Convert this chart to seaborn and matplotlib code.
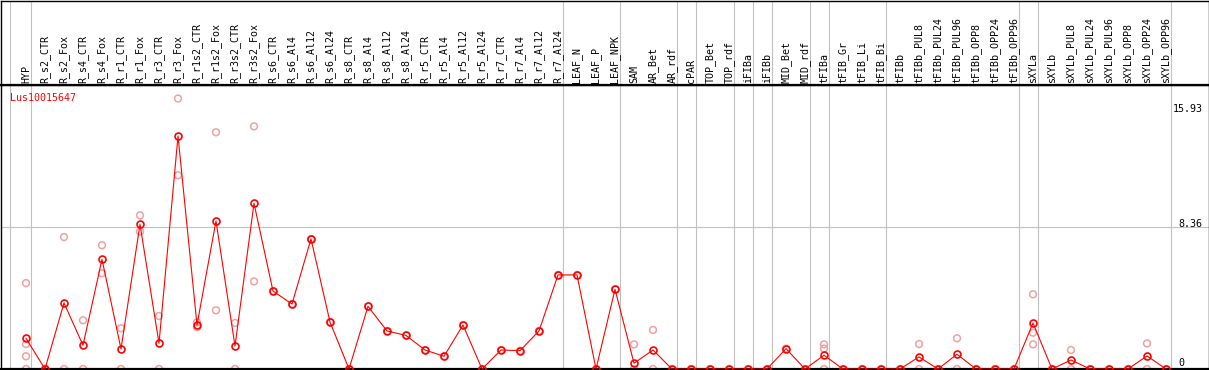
import numpy as np
import pandas as pd
import matplotlib
matplotlib.use("Agg")
import matplotlib.pyplot as plt
import matplotlib.transforms as mtransforms
import seaborn as sns

nan = np.nan

samples = [
    "HYP", "R_s2_CTR", "R_s2_Fox", "R_s4_CTR", "R_s4_Fox", "R_r1_CTR", "R_r1_Fox",
    "R_r3_CTR", "R_r3_Fox", "R_r1s2_CTR", "R_r1s2_Fox", "R_r3s2_CTR", "R_r3s2_Fox",
    "R_s6_CTR", "R_s6_Al4", "R_s6_Al12", "R_s6_Al24", "R_s8_CTR", "R_s8_Al4",
    "R_s8_Al12", "R_s8_Al24", "R_r5_CTR", "R_r5_Al4", "R_r5_Al12", "R_r5_Al24",
    "R_r7_CTR", "R_r7_Al4", "R_r7_Al12", "R_r7_Al24", "LEAF_N", "LEAF_P", "LEAF_NPK",
    "SAM", "AR_Bet", "AR_rdf", "cPAR", "TOP_Bet", "TOP_rdf", "iFIBa", "iFIBb",
    "MID_Bet", "MID_rdf", "tFIBa", "tFIB_Gr", "tFIB_Li", "tFIB_Bi", "tFIBb",
    "tFIBb_PUL8", "tFIBb_PUL24", "tFIBb_PUL96", "tFIBb_OPP8", "tFIBb_OPP24",
    "tFIBb_OPP96", "sXYLa", "sXYLb", "sXYLb_PUL8", "sXYLb_PUL24", "sXYLb_PUL96",
    "sXYLb_OPP8", "sXYLb_OPP24", "sXYLb_OPP96",
]

mean_expr = [
    1.81, 0, 3.89, 1.40, 6.46, 1.18, 8.52, 1.51, 13.72, 2.59, 8.72, 1.35, 9.76,
    4.59, 3.83, 7.66, 2.77, 0, 3.69, 2.24, 1.98, 1.12, 0.75, 2.59, 0,
    1.12, 1.08, 2.24, 5.54, 5.54, 0, 4.69,
    0.34, 1.12, 0, 0, 0, 0, 0, 0,
    1.20, 0, 0.81, 0, 0, 0, 0,
    0.71, 0, 0.87, 0, 0, 0,
    2.71, 0, 0.53, 0, 0, 0, 0.77, 0,
]

rep1 = [
    5.06, 0, 7.77, 2.87, 7.29, 2.40, 9.05, 3.12, 15.93, 2.75, 13.94, 2.71, 14.29,
    4.59, 3.83, 7.66, 2.77, 0, 3.69, 2.24, 1.98, 1.12, 0.75, 2.59, 0,
    1.12, 1.08, 2.24, 5.54, 5.54, 0, 4.69,
    1.45, 2.30, 0, 0, 0, 0, 0, 0,
    1.20, 0, 1.45, 0, 0, 0, 0,
    1.47, 0, 1.81, 0, 0, 0,
    4.40, 0, 1.12, 0, 0, 0, 1.51, 0,
]
rep2 = [
    1.47, 0, 0, 0, 5.64, 0, 8.09, 0, 11.41, 2.46, 3.46, 0, 5.16,
    nan, nan, nan, nan, nan, nan, nan, nan, nan, nan, nan, nan,
    nan, nan, nan, nan, nan, nan, nan,
    0, 0, nan, nan, nan, nan, nan, nan,
    nan, nan, 1.20, nan, nan, nan, nan,
    0, nan, 0, nan, nan, nan,
    2.14, nan, 0, nan, nan, nan, 0, nan,
]
rep3 = [
    0.75, nan, nan, nan, nan, nan, nan, nan, nan, nan, nan, nan, nan,
    nan, nan, nan, nan, nan, nan, nan, nan, nan, nan, nan, nan,
    nan, nan, nan, nan, nan, nan, nan,
    nan, nan, nan, nan, nan, nan, nan, nan,
    nan, nan, 0, nan, nan, nan, nan,
    nan, nan, nan, nan, nan, nan,
    1.45, nan, nan, nan, nan, nan, nan, nan,
]
rep4 = [0] + [nan] * 60

group_sizes = [1, 28, 3, 3, 1, 2, 1, 1, 2, 1, 3, 7, 1, 7]
gene_name = "Lus10015647"
ytick_values = [15.93, 8.36, 0]
ytick_labels = ["15.93", "8.36", "0"]

# ---------------------------------------------------------------- styling
sns.set_theme(style="white")
plt.rcParams["font.family"] = ["DejaVu Sans Mono", "DejaVu Sans"]

RED = "#ff0000"
PINK = "#f0a0a0"
GRID = "#c0c0c0"
FS = 7.2

W, H = 1209, 370
fig = plt.figure(figsize=(W / 100, H / 100), dpi=100)

left_px, right_px = 0.5, 1208.5
header_top, header_bot, plot_bot = 0.5, 85.0, 369.0
x0_px, step_px = 26.0, 19.0
px_per_unit = 16.98

ax = fig.add_axes([left_px / W, 1 - plot_bot / H,
                   (right_px - left_px) / W, (plot_bot - header_bot) / H])
hax = fig.add_axes([left_px / W, 1 - header_bot / H,
                    (right_px - left_px) / W, (header_bot - header_top) / H])

xlim = ((left_px - x0_px) / step_px, (right_px - x0_px) / step_px)
ylim = (0, (plot_bot - header_bot) / px_per_unit)

# ---------------------------------------------------------------- data frames
pos = np.arange(len(samples))
df = pd.DataFrame({"pos": pos, "sample": samples, "mean": mean_expr})
reps = pd.DataFrame({"pos": pos, "r1": rep1, "r2": rep2, "r3": rep3, "r4": rep4})
reps_long = reps.melt(id_vars="pos", value_name="value").dropna()

# ---------------------------------------------------------------- plot
ax.axhline(ytick_values[1], color=GRID, lw=0.8, zorder=0)
bounds = [-0.84] + list(np.cumsum(group_sizes) - 1 + 0.25)
for b in bounds:
    ax.axvline(b, color=GRID, lw=0.8, zorder=0)
    hax.axvline(b, color=GRID, lw=0.8, zorder=0)

sns.scatterplot(data=reps_long, x="pos", y="value", ax=ax, marker="o", s=24,
                facecolor="none", edgecolor=PINK, linewidth=1.1, zorder=2,
                legend=False)
sns.lineplot(data=df, x="pos", y="mean", ax=ax, color=RED, lw=0.8,
             marker="o", ms=5.0, mfc="none", mec=RED, mew=1.2, zorder=3,
             legend=False)

ax.set_xlim(*xlim)
ax.set_ylim(*ylim)
ax.set_xticks([])
ax.set_yticks([])
ax.set_xlabel("")
ax.set_ylabel("")
for sp in ax.spines.values():
    sp.set_visible(True)
    sp.set_color("black")
    sp.set_linewidth(1.0)
ax.spines["bottom"].set_linewidth(1.6)

# gene name
ax.text(9.5 / (right_px - left_px), 1 - 8 / (plot_bot - header_bot), gene_name,
        transform=ax.transAxes, color=RED, fontsize=FS, ha="left", va="top")

# y value labels on the right
label_left_px = [1173, 1178, 1178]
label_offset_px = [-13.7, 0.0, 3.5]
for val, lab, lx, off in zip(ytick_values, ytick_labels, label_left_px, label_offset_px):
    tr = mtransforms.blended_transform_factory(ax.transAxes, ax.transData)
    tr = mtransforms.offset_copy(tr, fig=fig, x=0, y=off, units="dots")
    ax.text((lx - left_px) / (right_px - left_px), val, lab, transform=tr,
            fontsize=FS, color="black", ha="left", va="baseline")

# header with rotated sample names
hax.set_xlim(*xlim)
hax.set_ylim(0, 1)
hax.set_xticks([])
hax.set_yticks([])
for i, s in enumerate(samples):
    hax.text(i, 2.0 / (header_bot - header_top), s, rotation=90, ha="center",
             va="bottom", fontsize=FS, color="black")
for sp in hax.spines.values():
    sp.set_visible(True)
    sp.set_color("black")
    sp.set_linewidth(1.0)
hax.spines["bottom"].set_linewidth(1.6)

fig.savefig("out.png", dpi=100)
